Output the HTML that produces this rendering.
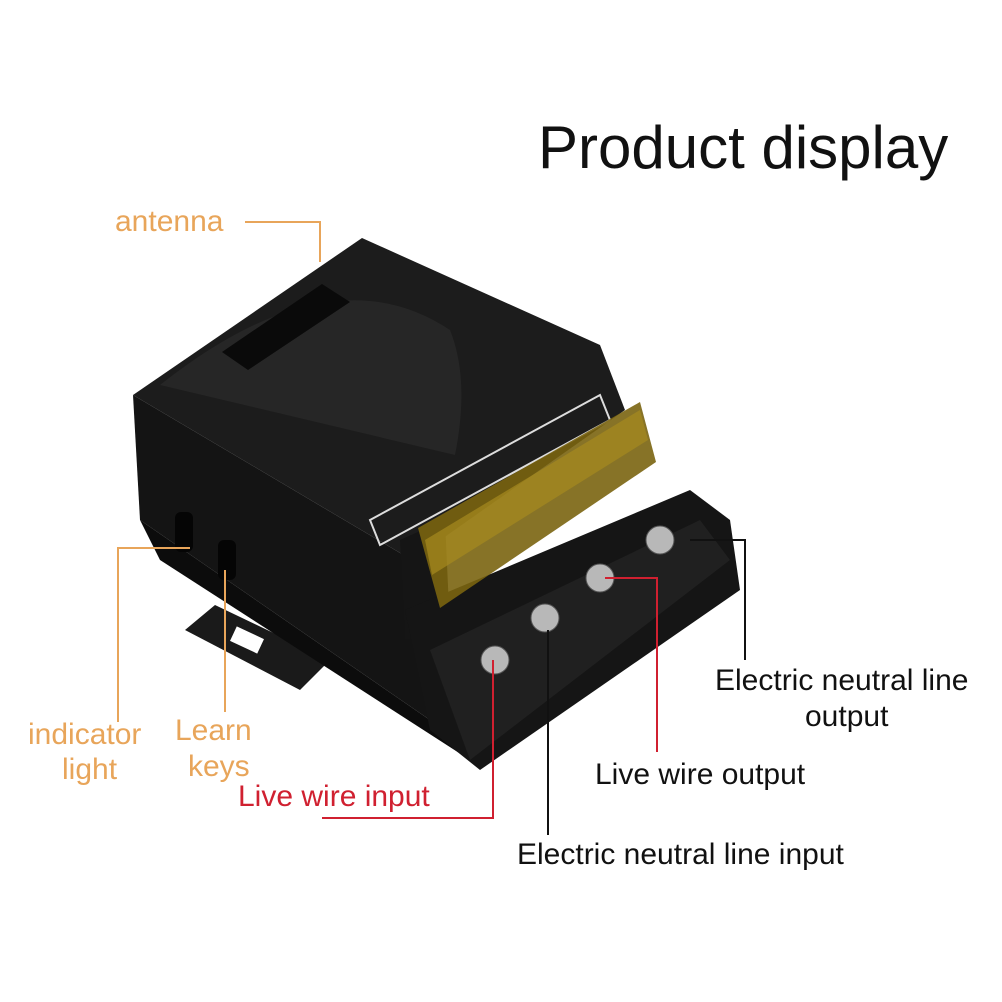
<!DOCTYPE html>
<html><head><meta charset="utf-8"><style>
html,body{margin:0;padding:0;background:#fff;}
svg{display:block}
text{font-family:"Liberation Sans",sans-serif;}
</style></head><body>
<svg width="1002" height="1002" viewBox="0 0 1002 1002" xmlns="http://www.w3.org/2000/svg">
<rect width="1002" height="1002" fill="#fff"/>
<text x="538" y="168" font-size="60" fill="#111">Product display</text>

<!-- mounting tab -->
<polygon points="185,630 215,605 330,660 300,690" fill="#1a1a1a"/>
<rect x="232" y="632" width="30" height="16" fill="#fff" transform="rotate(25 247 640)"/>
<!-- body front face -->
<polygon points="133,395 412,560 430,720 140,520" fill="#141414"/>
<polygon points="140,520 430,720 470,760 160,560" fill="#0c0c0c"/>
<!-- top face -->
<polygon points="133,395 362,238 600,345 625,410 412,560" fill="#1c1c1c"/>
<path d="M160,385 Q330,250 450,330 Q470,380 455,455 Z" fill="#262626"/>
<polygon points="222,352 322,284 350,302 248,370" fill="#0a0a0a"/>
<!-- filler -->
<polygon points="400,540 445,520 450,630 405,640" fill="#151515"/>
<!-- slots -->
<rect x="175" y="512" width="18" height="40" rx="6" fill="#050505"/>
<rect x="218" y="540" width="18" height="40" rx="6" fill="#050505"/>
<!-- label plate -->
<polygon points="370,520 600,395 610,420 380,545" fill="none" stroke="#ddd" stroke-width="2"/>
<!-- terminal block -->
<polygon points="405,610 690,490 730,520 740,590 480,770 430,730" fill="#151515"/>
<polygon points="430,650 700,520 730,560 470,760" fill="#202020"/>
<g fill="#b8b8b8" stroke="#555">
<circle cx="495" cy="660" r="14"/><circle cx="545" cy="618" r="14"/>
<circle cx="600" cy="578" r="14"/><circle cx="660" cy="540" r="14"/>
</g>
<!-- yellow cover -->
<polygon points="418,528 640,402 656,462 440,608" fill="#7a6410" opacity="0.9"/>
<polygon points="425,540 640,410 648,440 432,575" fill="#a68a20" opacity="0.7"/>

<!-- leader lines -->
<g fill="none" stroke-width="2">
<polyline points="245,222 320,222 320,262" stroke="#e8a55a"/>
<polyline points="118,722 118,548 190,548" stroke="#e8a55a"/>
<polyline points="225,712 225,570" stroke="#e8a55a"/>
<polyline points="322,818 493,818 493,660" stroke="#d02030"/>
<polyline points="548,835 548,630" stroke="#111"/>
<polyline points="657,752 657,578 605,578" stroke="#d02030"/>
<polyline points="745,660 745,540 690,540" stroke="#111"/>
</g>

<g font-size="30">
<text x="115" y="231" fill="#e8a55a">antenna</text>
<text x="28" y="744" fill="#e8a55a">indicator</text>
<text x="62" y="779" fill="#e8a55a">light</text>
<text x="175" y="740" fill="#e8a55a">Learn</text>
<text x="188" y="776" fill="#e8a55a">keys</text>
<text x="238" y="806" fill="#d02030">Live wire input</text>
<text x="517" y="864" fill="#111">Electric neutral line input</text>
<text x="595" y="784" fill="#111">Live wire output</text>
<text x="715" y="690" fill="#111">Electric neutral line</text>
<text x="805" y="726" fill="#111">output</text>
</g>
</svg>
</body></html>
